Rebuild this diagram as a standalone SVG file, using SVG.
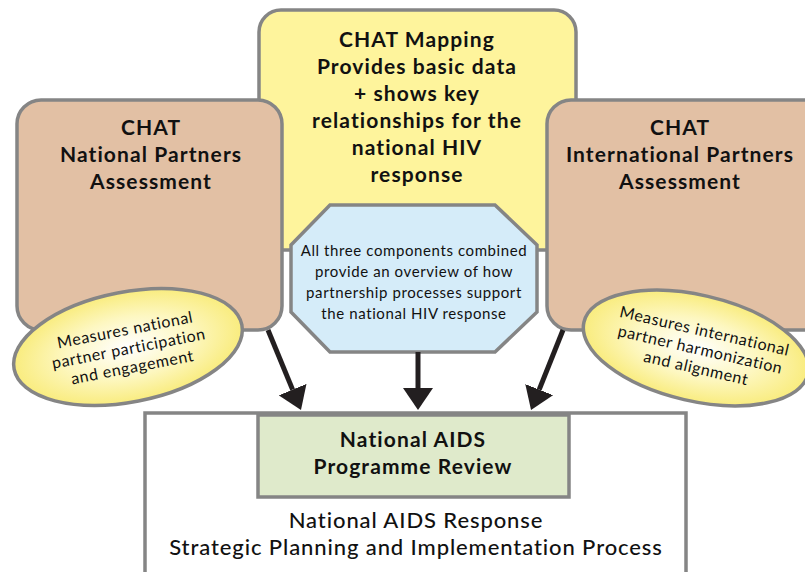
<svg xmlns="http://www.w3.org/2000/svg" width="805" height="572" viewBox="0 0 805 572">
<defs>
<style>
.box{stroke:#858585;stroke-width:3.5}
.tan{fill:#e2c0a4}
.title{font-family:Lato,"Liberation Sans",sans-serif;font-weight:bold;font-size:21px;letter-spacing:1.1px;fill:#111;text-anchor:middle}
.body{font-family:Lato,"Liberation Sans",sans-serif;font-size:15px;letter-spacing:0.6px;fill:#111;text-anchor:middle}
.ell{font-family:Lato,"Liberation Sans",sans-serif;font-size:16px;letter-spacing:0.6px;fill:#111;text-anchor:middle}
.mid{font-family:Lato,"Liberation Sans",sans-serif;font-weight:500;font-size:22px;letter-spacing:0.9px;fill:#111;text-anchor:middle}
.conn{stroke:#231f20;stroke-width:5;fill:none;marker-end:url(#head)}
</style>
<radialGradient id="ell" cx="0.5" cy="0.5" r="0.5">
<stop offset="0" stop-color="#ffffff"/>
<stop offset="0.55" stop-color="#fdf7c0"/>
<stop offset="1" stop-color="#f9ec7e"/>
</radialGradient>
<marker id="head" markerUnits="userSpaceOnUse" viewBox="0 -15 22 30" refX="0" refY="0" markerWidth="22" markerHeight="30" orient="auto">
<path d="M0,-15 L22,0 L0,15 z" fill="#231f20"/>
</marker>
</defs>
<rect width="805" height="572" fill="#fff"/>

<g id="mapping">
<rect class="box" x="259" y="10" width="317" height="240" rx="22" fill="#fef49c"/>
<text class="title" x="417" y="47">CHAT Mapping</text>
<text class="title" x="417" y="74">Provides basic data</text>
<text class="title" x="417" y="101">+ shows key</text>
<text class="title" x="417" y="128">relationships for the</text>
<text class="title" x="417" y="155">national HIV</text>
<text class="title" x="417" y="182">response</text>
</g>

<g id="national">
<rect class="box tan" x="17" y="100" width="265" height="230" rx="24"/>
<text class="title" x="151" y="135">CHAT</text>
<text class="title" x="151" y="162">National Partners</text>
<text class="title" x="151" y="189">Assessment</text>
</g>

<g id="international">
<rect class="box tan" x="547" y="100" width="280" height="230" rx="24"/>
<text class="title" x="680" y="135">CHAT</text>
<text class="title" x="680" y="162">International Partners</text>
<text class="title" x="680" y="189">Assessment</text>
</g>

<g id="combined">
<polygon class="box" points="330,205 495,205 537,245 537,312 495,352 330,352 291,312 291,245" fill="#d5ecf9"/>
<text class="body" x="414" y="256">All three components combined</text>
<text class="body" x="414" y="277">provide an overview of how</text>
<text class="body" x="414" y="298">partnership processes support</text>
<text class="body" x="414" y="319">the national HIV response</text>
</g>

<g id="national-measure">
<ellipse class="box" cx="128" cy="347" rx="116" ry="55" transform="rotate(-11 128 347)" fill="url(#ell)"/>
<g transform="rotate(-11 129 350)">
<text class="ell" x="129" y="335">Measures national</text>
<text class="ell" x="129" y="354">partner participation</text>
<text class="ell" x="129" y="373">and engagement</text>
</g>
</g>

<g id="international-measure">
<ellipse class="box" cx="696" cy="348" rx="115" ry="53" transform="rotate(13 696 348)" fill="url(#ell)"/>
<g transform="rotate(13 700 351)">
<text class="ell" x="700" y="336">Measures international</text>
<text class="ell" x="700" y="355">partner harmonization</text>
<text class="ell" x="700" y="374">and alignment</text>
</g>
</g>

<g id="connectors">
<line class="conn" x1="268" y1="330" x2="292.6" y2="389.6"/>
<line class="conn" x1="418" y1="352" x2="418" y2="388"/>
<line class="conn" x1="563" y1="330" x2="539.2" y2="389.6"/>
</g>

<g id="strategic">
<rect class="box" x="145" y="413" width="541" height="175" fill="#fff"/>
<text class="mid" x="416" y="528">National AIDS Response</text>
<text class="mid" x="416" y="555">Strategic Planning and Implementation Process</text>
</g>

<g id="review">
<rect class="box" x="258" y="415" width="311" height="82" fill="#dfeacb"/>
<text class="title" x="413" y="447">National AIDS</text>
<text class="title" x="413" y="474">Programme Review</text>
</g>
</svg>
